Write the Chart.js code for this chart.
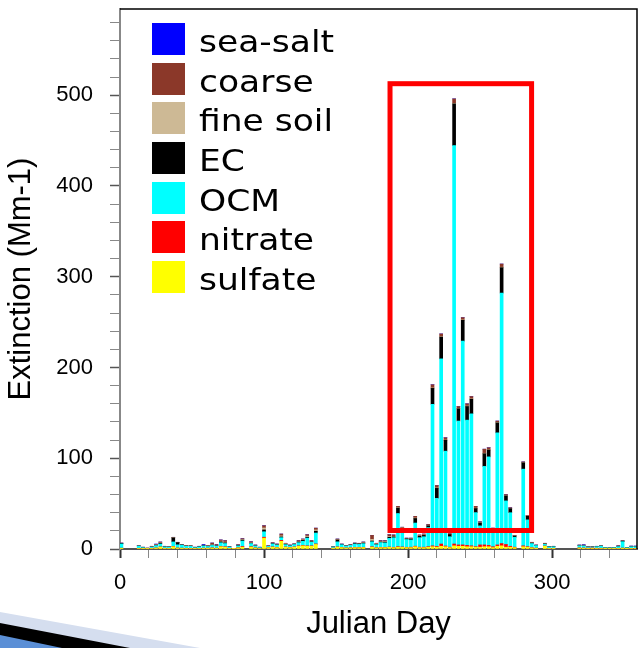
<!DOCTYPE html>
<html>
<head>
<meta charset="utf-8">
<script src="https://cdn.jsdelivr.net/npm/chart.js@4.4.1/dist/chart.umd.min.js"></script>
<style>
  body { margin: 0; background: #fff; }
  #wrap { position: relative; width: 644px; height: 648px; overflow: hidden; }
  #legend { position: absolute; left: 152px; top: 22px; font-family: "DejaVu Sans", sans-serif; }
  .lg-row { display: flex; align-items: flex-start; height: 39.7px; }
  .lg-box { width: 33px; height: 32px; margin-top: 1px; }
  .lg-text { margin-left: 14px; font-size: 30px; line-height: 40px; color: #000;
             transform: scaleX(1.15); transform-origin: left center; white-space: nowrap; }
  #swoosh { position: absolute; left: 0; bottom: 0; pointer-events: none; }
</style>
</head>
<body>
<div id="wrap">
  <canvas id="chart" width="644" height="648"></canvas>
  <div id="legend"></div>
  <svg id="swoosh" width="220" height="40" viewBox="0 608 220 40">
    <polygon points="0,612 200,648 0,648" fill="#d5deef"/>
    <polygon points="0,623 130,648 0,648" fill="#000"/>
    <polygon points="0,635 62,648 0,648" fill="#5b8fd6"/>
  </svg>
</div>
<script>
// sampling days (every third day, with gaps)
const days = [
  1, 13, 16, 19, 22, 25, 28, 31, 34, 37,
  40, 43, 46, 49, 52, 55, 58, 61, 64, 67,
  70, 73, 76, 79, 82, 85, 91, 94, 97, 100,
  103, 106, 109, 112, 115, 118, 121, 124, 127, 130,
  133, 136, 148, 151, 154, 157, 160, 163, 166, 169,
  175, 178, 181, 184, 187, 190, 193, 196, 199, 202,
  205, 208, 211, 214, 217, 220, 223, 226, 229, 232,
  235, 238, 241, 244, 247, 250, 253, 256, 259, 262,
  265, 268, 271, 274, 280, 283, 286, 289, 295, 298,
  301, 319, 322, 325, 328, 331, 334, 337, 340, 343,
  346, 349, 352, 355, 358
];

const sulfate = [
  0.8, 0.6, 0.4, 0.2, 0.6, 1.0, 2.0, 0.7, 0.6, 2.5,
  1.0, 0.8, 0.6, 0.6, 0.4, 0.6, 0.8, 0.8, 1.0, 0.8,
  2.5, 2.0, 0.5, 0.1, 1.2, 2.0, 2.0, 1.0, 0.5, 12,
  1.5, 2.0, 1.5, 8.5, 2.0, 1.5, 2.0, 3.0, 3.5, 3.0,
  3.0, 5.0, 0.8, 2.0, 1.5, 1.0, 1.2, 1.5, 1.4, 1.6,
  2.0, 1.2, 1.5, 1.5, 1.8, 1.5, 2.0, 1.8, 1.5, 1.5,
  2.5, 1.5, 1.5, 2.0, 2.5, 2.0, 3.0, 2.5, 1.5, 3.5,
  3.0, 3.0, 2.5, 2.5, 2.0, 2.0, 2.5, 2.5, 1.5, 3.0,
  3.5, 2.0, 2.0, 1.5, 2.5, 2.0, 1.2, 0.8, 3.0, 0.6,
  0.7, 1.0, 0.8, 0.4, 0.4, 0.6, 0.6, 0.3, 0.3, 0.3,
  0.6, 0.8, 0.3, 0.6, 0.6
];
const nitrate = [
  0.2, 0.2, 0.1, 0.1, 0.2, 0.2, 0.3, 0.2, 0.1, 0.3,
  0.2, 0.2, 0.2, 0.2, 0.1, 0.1, 0.2, 0.2, 0.3, 0.2,
  0.4, 0.5, 0.2, 0.4, 0.3, 0.8, 0.5, 0.3, 0.1, 1.0,
  0.2, 0.4, 0.3, 1.0, 0.3, 0.3, 0.3, 0.5, 0.5, 0.5,
  0.5, 0.6, 0.2, 0.4, 0.2, 0.2, 0.2, 0.3, 0.3, 0.3,
  0.5, 0.3, 0.3, 0.3, 0.4, 0.4, 0.6, 0.5, 0.4, 0.5,
  0.6, 0.5, 0.5, 0.6, 1.0, 0.8, 2.5, 0.8, 0.5, 2.0,
  1.5, 1.5, 1.5, 1.0, 0.6, 2.5, 2.0, 1.5, 1.0, 1.5,
  2.5, 3.0, 1.0, 0.5, 1.0, 0.6, 0.3, 0.2, 0.3, 0.2,
  0.2, 0.3, 0.3, 0.6, 0.8, 0.3, 0.3, 0.1, 0.1, 0.1,
  0.2, 0.3, 0.1, 0.2, 0.2
];
const ocm = [
  4.6, 2.3, 1.0, 0.4, 1.2, 2.6, 3.2, 1.4, 1.3, 5.0,
  3.4, 3.2, 2.2, 2.2, 1.0, 1.6, 2.4, 1.8, 2.6, 2.2,
  4.0, 3.5, 1.4, 0.1, 2.0, 6.0, 3.5, 2.0, 1.0, 6.0,
  1.2, 3.2, 2.5, 3.0, 2.5, 1.6, 2.6, 3.5, 4.5, 8.5,
  4.0, 12.0, 1.2, 5.5, 3.0, 2.0, 2.6, 3.6, 3.4, 4.0,
  5.5, 3.3, 5.3, 5.0, 9.5, 10.5, 36.5, 18.0, 8.5, 8.0,
  25.5, 10.5, 11.5, 21.0, 156, 53, 204, 104.5, 11.5, 439,
  136.5, 224.5, 138, 145.5, 37.5, 21, 86.5, 97.5, 17.5, 123.5,
  276, 48, 37, 11, 84.5, 29.5, 4.5, 2.8, 1.8, 1.4,
  1.5, 2.2, 2.2, 1.0, 0.9, 1.6, 2.2, 1.0, 0.8, 1.0,
  1.8, 7.0, 1.0, 1.6, 1.6
];
const ec = [
  0.6, 0.2, 0.2, 0.1, 0.3, 0.4, 0.8, 0.3, 0.2, 4.5,
  2.5, 0.4, 0.3, 0.3, 0.2, 0.3, 0.4, 0.3, 0.5, 0.4,
  1.0, 0.8, 0.2, 0, 0.4, 1.0, 0.5, 0.3, 0.1, 2.0,
  0.2, 0.4, 0.4, 0.8, 0.4, 0.3, 0.3, 0.8, 1.0, 1.0,
  0.5, 2.0, 0.1, 2.0, 0.3, 0.2, 0.4, 0.6, 0.6, 0.6,
  0.8, 0.4, 0.6, 0.6, 1.2, 1.0, 6.0, 2.5, 0.8, 1.0,
  5.0, 1.5, 1.5, 2.0, 17.5, 11, 24, 12, 2.5, 46,
  13.5, 23, 15, 16, 4.5, 3.0, 14, 7.5, 2.0, 11,
  28, 5.5, 4.5, 1.2, 7, 4, 0.6, 0.3, 0.5, 0.2,
  0.2, 0.2, 0.2, 0.2, 0.2, 0.2, 0.2, 0.1, 0.1, 0.1,
  0.2, 0.6, 0.1, 0.2, 0.2
];
const fineSoil = [
  0.2, 0.2, 0.2, 0.1, 0.3, 0.3, 0.4, 0.2, 0.2, 0.3,
  0.2, 0.1, 0.3, 0.3, 0.2, 0.2, 0.2, 0.3, 0.6, 0.4,
  0.8, 0.8, 0.1, 0, 0.3, 0.6, 0.5, 0.3, 0.1, 2.2,
  0.2, 0.4, 0.4, 1.2, 0.5, 0.3, 0.3, 0.6, 0.6, 1.2,
  0.5, 1.4, 0.1, 0.3, 0.2, 0.1, 0.2, 0.3, 0.3, 0.5,
  1.8, 0.4, 0.5, 0.6, 0.9, 0.6, 0.5, 0.4, 0.3, 0.4,
  0.6, 0.4, 0.5, 0.4, 0.5, 0.5, 0.5, 0.3, 0.3, 0.5,
  0.3, 0.5, 0.5, 0.5, 0.4, 0.3, 0.5, 0.3, 0.3, 0.5,
  0.5, 0.3, 0.3, 0.3, 0.3, 0.3, 0.3, 0.1, 0.3, 0.1,
  0.2, 0.3, 0.4, 0.2, 0.1, 0.1, 0.2, 0.1, 0.1, 0.1,
  0.3, 0.2, 0.1, 0.2, 0.2
];
const coarse = [
  0.2, 0.2, 0.1, 0.1, 0.4, 0.5, 1.0, 0.2, 0.2, 0.3,
  0.1, 0.1, 0.4, 0.4, 0.1, 0.2, 0.3, 0.6, 1.6, 0.8,
  1.3, 1.6, 0.2, 0.1, 0.6, 1.0, 1.0, 0.5, 0.2, 2.5,
  0.4, 0.6, 0.4, 2.0, 0.6, 0.4, 0.4, 0.8, 0.9, 1.6,
  0.7, 2.0, 0.2, 0.8, 0.3, 0.2, 0.2, 0.3, 0.3, 0.7,
  4.4, 0.7, 1.0, 1.2, 2.0, 1.5, 1.4, 0.8, 0.5, 0.6,
  1.8, 1.0, 1.0, 1.0, 3.5, 2.7, 3.0, 2.5, 0.7, 5.0,
  2.2, 2.5, 2.5, 2.5, 2.0, 1.2, 4.5, 2.3, 0.7, 1.5,
  3.5, 1.2, 0.7, 0.5, 0.7, 0.6, 0.5, 0.2, 0.4, 0.1,
  0.2, 0.4, 0.5, 0.2, 0.2, 0.2, 0.2, 0.2, 0.1, 0.2,
  0.6, 0.3, 0.2, 0.3, 0.3
];
const seaSalt = [
  0, 0, 0, 0, 0, 0.5, 0, 0, 0, 0,
  0, 0, 0, 0, 0, 0, 0.7, 0, 0, 0,
  0, 0, 0, 0, 0, 0, 0, 0, 0, 0,
  0, 0, 0, 0, 0, 0, 0, 0, 0, 0,
  0, 0, 0, 0, 0, 0, 0, 0, 0, 0,
  0, 0, 0, 0, 0, 0, 0, 0, 0, 0,
  0, 0, 0, 0, 0, 0, 0, 0, 0, 0,
  0, 0, 0, 0, 0, 0, 0, 0, 0, 0,
  0, 0, 0, 0, 0, 0, 0, 0, 0, 0,
  0, 0, 0.4, 0, 0, 0, 0, 0, 0, 0,
  0, 0, 0, 0.2, 0.2
];

// bottom of the stack first
const seriesNames = ['sulfate', 'nitrate', 'OCM', 'EC', 'fine soil', 'coarse', 'sea-salt'];
const seriesColors = ['#ffff00', '#ff0000', '#00ffff', '#000000', '#cdb995', '#8b3829', '#0000ff'];
const seriesData = [sulfate, nitrate, ocm, ec, fineSoil, coarse, seaSalt];

// highlight box (data coords): days, Mm-1
const boxDays = [187.5, 285.8];
const boxExt = [20.4, 512.7];

const datasets = seriesData.map((vals, i) => ({
    label: seriesNames[i],
    data: days.map((d, j) => ({ x: d, y: vals[j] })),
    backgroundColor: seriesColors[i],
    borderWidth: 0,
    barThickness: 3
}));

// frame top/right + red highlight box
const framePlugin = {
    id: 'frame',
    afterDatasetsDraw(chart) {
        const { ctx, chartArea: a, scales: { x, y } } = chart;
        ctx.save();
        ctx.strokeStyle = '#000';
        ctx.lineWidth = 1.5;
        ctx.beginPath();
        ctx.moveTo(a.left, a.top);
        ctx.lineTo(a.right, a.top);
        ctx.lineTo(a.right, a.bottom);
        ctx.stroke();

        const x0 = x.getPixelForValue(boxDays[0]);
        const x1 = x.getPixelForValue(boxDays[1]);
        const y0 = y.getPixelForValue(boxExt[1]);
        const y1 = y.getPixelForValue(boxExt[0]);
        ctx.strokeStyle = '#ff0000';
        ctx.lineWidth = 5;
        ctx.strokeRect(x0, y0, x1 - x0, y1 - y0);
        ctx.restore();
    }
};

const tickFont = { family: 'Liberation Sans, Arial, sans-serif', size: 22 };
const titleFont = { family: 'Liberation Sans, Arial, sans-serif', size: 31 };

new Chart(document.getElementById('chart'), {
    type: 'bar',
    data: { datasets: datasets },
    options: {
        responsive: false,
        animation: false,
        layout: { padding: { top: 9, right: 7, left: 0, bottom: 0 } },
        plugins: {
            legend: { display: false },
            tooltip: { enabled: false }
        },
        scales: {
            x: {
                type: 'linear',
                stacked: true,
                offset: false,
                min: 0,
                max: 359,
                afterFit: s => { s.height = 99; s.paddingLeft = 0; s.paddingRight = 0; },
                grid: {
                    offset: false,
                    drawOnChartArea: false,
                    tickLength: 9,
                    tickColor: c => c.tick && c.tick.value % 100 === 0 ? '#333' : '#888',
                    tickWidth: c => c.tick && c.tick.value % 100 === 0 ? 2 : 1
                },
                border: { color: '#555', width: 2 },
                ticks: {
                    stepSize: 20,
                    includeBounds: false,
                    autoSkip: false,
                    maxRotation: 0,
                    padding: 12,
                    color: '#000',
                    font: tickFont,
                    callback: v => v % 100 === 0 ? v : ''
                },
                title: {
                    display: true,
                    text: 'Julian Day',
                    color: '#000',
                    font: titleFont,
                    padding: { top: 0, bottom: 5 }
                }
            },
            y: {
                stacked: true,
                min: 0,
                max: 595,
                afterFit: s => { s.width = 120; s.paddingTop = 0; s.paddingBottom = 0; },
                grid: {
                    drawOnChartArea: false,
                    tickLength: 10,
                    tickColor: c => c.tick && c.tick.value % 100 === 0 ? '#555' : '#888',
                    tickWidth: c => c.tick && c.tick.value % 100 === 0 ? 1.5 : 1
                },
                border: { color: '#888', width: 2 },
                ticks: {
                    stepSize: 20,
                    includeBounds: false,
                    autoSkip: false,
                    padding: 17,
                    color: '#000',
                    font: tickFont,
                    callback: v => v % 100 === 0 ? v : ''
                },
                title: {
                    display: true,
                    text: 'Extinction (Mm-1)',
                    color: '#000',
                    font: titleFont,
                    padding: { top: 3, bottom: 0 }
                }
            }
        }
    },
    plugins: [framePlugin]
});

// legend in the top-left of the plot, top of stack first
const legendEl = document.getElementById('legend');
for (let i = seriesNames.length - 1; i >= 0; i--) {
    const row = document.createElement('div');
    row.className = 'lg-row';
    row.innerHTML = '<div class="lg-box" style="background:' + seriesColors[i] + '"></div>' +
        '<span class="lg-text">' + seriesNames[i] + '</span>';
    legendEl.appendChild(row);
}
</script>
</body>
</html>
